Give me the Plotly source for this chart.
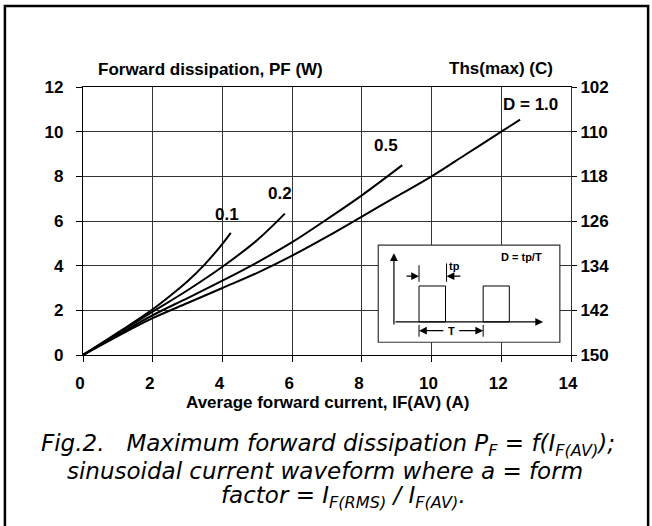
import plotly.graph_objects as go

# ---- data ----
i_d01 = [0, 1, 2, 2.5, 3, 3.5, 4, 4.24]
p_d01 = [0, 1.0, 2.05, 2.65, 3.3, 4.07, 4.98, 5.47]

i_d02 = [0, 1, 2, 3, 4, 5, 5.79]
p_d02 = [0, 0.97, 1.94, 2.9, 3.95, 5.15, 6.33]

i_d05 = [0, 1, 2, 3, 4, 5, 6, 7, 8, 9.16]
p_d05 = [0, 0.9, 1.78, 2.55, 3.33, 4.15, 5.05, 6.08, 7.15, 8.5]

i_d10 = [0, 1, 2, 3, 4, 5, 6, 7, 8, 9, 10, 11, 12, 12.54]
p_d10 = [0, 0.85, 1.65, 2.33, 3.0, 3.68, 4.45, 5.3, 6.2, 7.1, 8.0, 9.0, 10.0, 10.54]

x_ticks = [0, 2, 4, 6, 8, 10, 12, 14]
pf_ticks = [0, 2, 4, 6, 8, 10, 12]
ths_ticks = [102, 110, 118, 126, 134, 142, 150]

curve_labels = ["0.1", "0.2", "0.5", "D = 1.0"]
label_pos_i = [4.12, 5.65, 8.69, 12.83]
label_pos_p = [6.28, 7.24, 9.39, 11.2]

FONT = "Liberation Sans, Arial, sans-serif"
CAPFONT = "DejaVu Sans, sans-serif"

fig = go.Figure()
for xs, ys in [(i_d01, p_d01), (i_d02, p_d02), (i_d05, p_d05), (i_d10, p_d10)]:
    fig.add_trace(go.Scatter(x=xs, y=ys, mode="lines",
                             line=dict(color="black", width=2, shape="spline", smoothing=1),
                             showlegend=False, hoverinfo="skip"))
# carrier for the right-hand Ths axis
fig.add_trace(go.Scatter(x=[0, 0], y=[ths_ticks[-1], ths_ticks[0]], yaxis="y2", mode="markers",
                         marker=dict(opacity=0), showlegend=False, hoverinfo="skip"))

def txt(x, y, text, size, ref="paper", family=FONT):
    return dict(x=x, y=y, xref=ref if ref == "paper" else "x", yref=ref if ref == "paper" else "y",
                text=text, showarrow=False, xanchor="center", yanchor="middle",
                font=dict(size=size, family=family, color="black"))

ann = []
for t, xi, yi in zip(curve_labels, label_pos_i, label_pos_p):
    ann.append(txt(xi, yi, "<b>%s</b>" % t, 17, ref="data"))

ann += [
    txt(0.262, 1.066, "<b>Forward dissipation, PF (W)</b>", 17),
    txt(0.856, 1.068, "<b>Ths(max) (C)</b>", 17),
    txt(0.5, -0.179, "<b>Average forward current, IF(AV) (A)</b>", 17),
    txt(0.502, -0.335,
        "<i>Fig.2.\u00a0\u00a0\u00a0Maximum forward dissipation P<sub>F</sub> = f(I<sub>F(AV)</sub>);</i>",
        23, family=CAPFONT),
    txt(0.496, -0.431, "<i>sinusoidal current waveform where a = form</i>", 23, family=CAPFONT),
    txt(0.533, -0.528, "<i>factor = I<sub>F(RMS)</sub> / I<sub>F(AV)</sub>.</i>", 23, family=CAPFONT),
]

# inset waveform diagram texts and arrows
ann += [
    txt(12.58, 4.38, "<b>D = tp/T</b>", 11, ref="data"),
    txt(10.67, 4.0, "<b>tp</b>", 11, ref="data"),
    txt(10.56, 1.09, "<b>T</b>", 11, ref="data"),
]
def arrow(x0, y0, x1, y1):
    return dict(x=x1, y=y1, ax=x0, ay=y0, xref="x", yref="y", axref="x", ayref="y",
                text="", showarrow=True, arrowhead=2, arrowsize=1.3, arrowwidth=1.2,
                arrowcolor="black")
ann += [
    arrow(8.92, 1.30, 8.92, 4.56),     # vertical axis
    arrow(8.92, 1.48, 13.2, 1.48),     # horizontal axis
    arrow(9.24, 3.53, 9.64, 3.53),     # tp left
    arrow(10.87, 3.53, 10.43, 3.53),   # tp right
    arrow(10.38, 1.09, 9.64, 1.09),    # T left
    arrow(10.75, 1.09, 11.48, 1.09),   # T right
]

shapes = [
    # outer frame
    dict(type="rect", xref="paper", yref="paper", x0=-0.160, x1=1.158, y0=-0.70, y1=1.302,
         line=dict(color="black", width=2.5), fillcolor="rgba(0,0,0,0)", layer="below"),
    # inset box
    dict(type="rect", xref="x", yref="y", x0=8.47, x1=13.68, y0=0.57, y1=4.92,
         line=dict(color="#333", width=1.2), fillcolor="white", layer="above"),
    # pulses
    dict(type="rect", xref="x", yref="y", x0=9.64, x1=10.40, y0=1.48, y1=3.09,
         line=dict(color="black", width=1), fillcolor="rgba(0,0,0,0)"),
    dict(type="rect", xref="x", yref="y", x0=11.48, x1=12.23, y0=1.48, y1=3.09,
         line=dict(color="black", width=1), fillcolor="rgba(0,0,0,0)"),
    # tp marker ticks
    dict(type="line", xref="x", yref="y", x0=9.64, x1=9.64, y0=3.28, y1=4.02,
         line=dict(color="black", width=1)),
    dict(type="line", xref="x", yref="y", x0=10.43, x1=10.43, y0=3.28, y1=4.1,
         line=dict(color="black", width=1)),
    # T marker ticks
    dict(type="line", xref="x", yref="y", x0=9.64, x1=9.64, y0=0.82, y1=1.35,
         line=dict(color="black", width=1)),
    dict(type="line", xref="x", yref="y", x0=11.48, x1=11.48, y0=0.82, y1=1.35,
         line=dict(color="black", width=1)),
]

fig.update_layout(
    width=652, height=526,
    margin=dict(l=83, r=81, t=87, b=171),
    paper_bgcolor="white", plot_bgcolor="white",
    font=dict(family=FONT, color="black", size=17),
    showlegend=False,
    annotations=ann, shapes=shapes,
    xaxis=dict(range=[0, 14], tickvals=x_ticks, ticktext=[str(v) for v in x_ticks],
               showgrid=True, gridcolor="#333", gridwidth=1, zeroline=False,
               showline=True, linecolor="black", linewidth=1.2, mirror=True,
               ticks="outside", ticklen=6, tickcolor="black", ticklabelstandoff=6,
               ticklabelshift=-3,
               tickfont=dict(size=17, family=FONT, color="black", weight="bold")),
    yaxis=dict(range=[0, 12], tickvals=pf_ticks, ticktext=[str(v) for v in pf_ticks],
               showgrid=True, gridcolor="#333", gridwidth=1, zeroline=False,
               showline=True, linecolor="black", linewidth=1.2, mirror=True,
               ticks="outside", ticklen=6, tickcolor="black", ticklabelstandoff=9,
               tickfont=dict(size=17, family=FONT, color="black", weight="bold")),
    yaxis2=dict(range=[ths_ticks[-1], ths_ticks[0]], overlaying="y", side="right",
                tickvals=ths_ticks, ticktext=[str(v) for v in ths_ticks],
                showgrid=False, zeroline=False, showline=True, linecolor="#333",
                ticks="outside", ticklen=5, tickcolor="black", ticklabelstandoff=0,
                tickfont=dict(size=17, family=FONT, color="black", weight="bold")),
)

# remove the browser's default 8px body margin so the figure fills the window exactly
fig.write_html("out.html", config={"displayModeBar": False},
               post_script="document.body.style.margin='0px';")
